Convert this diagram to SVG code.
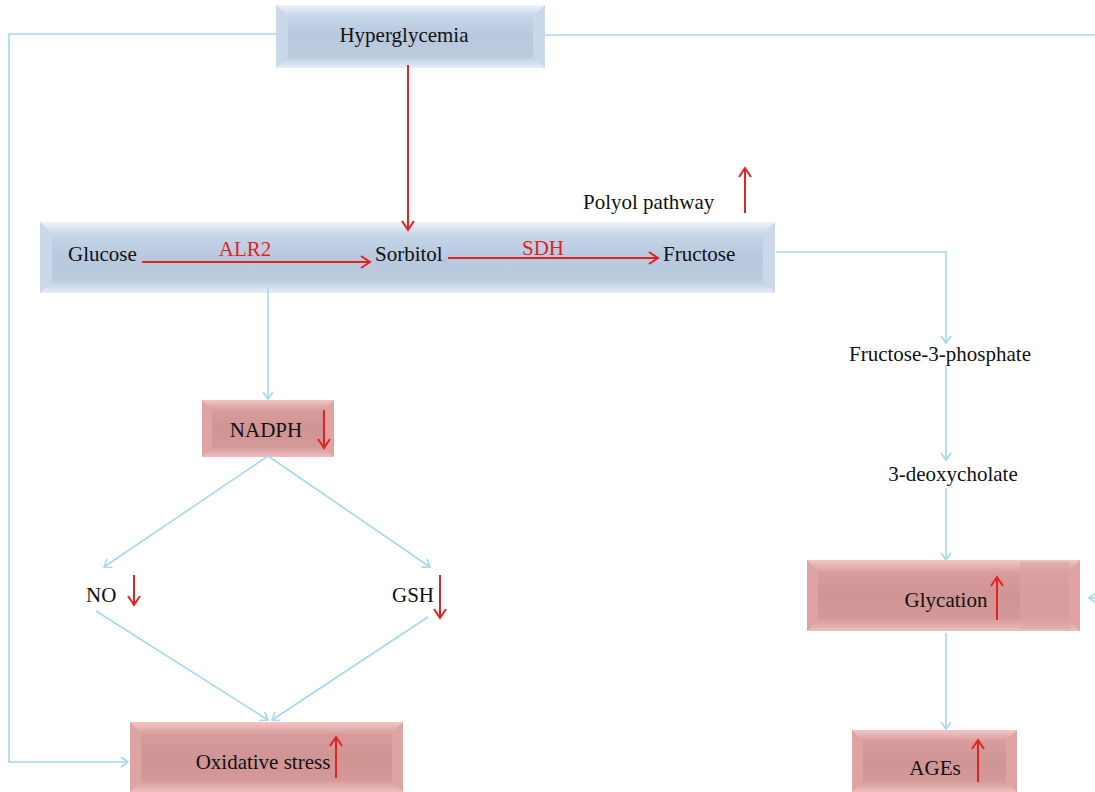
<svg xmlns="http://www.w3.org/2000/svg" width="1095" height="792" viewBox="0 0 1095 792">
<style>
text{font-family:"Liberation Serif","DejaVu Serif",serif;font-size:21px;fill:#111}
.red{fill:#e02424}
.c{fill:none;stroke:#a3d8ef;stroke-width:1.6}
.r{fill:none;stroke:#e02424;stroke-width:2}
.bs{fill:#cad8ea}
.ps{fill:#dea4a4}
</style>
<defs>
<linearGradient id="gb" x1="0" y1="0" x2="0" y2="1">
<stop offset="0" stop-color="#eef3fa"/><stop offset="0.18" stop-color="#c6d5e8"/><stop offset="0.5" stop-color="#b8c8de"/><stop offset="0.82" stop-color="#bccbe0"/><stop offset="1" stop-color="#e6eef8"/>
</linearGradient>
<linearGradient id="gp" x1="0" y1="0" x2="0" y2="1">
<stop offset="0" stop-color="#f3c6c6"/><stop offset="0.18" stop-color="#d99c9c"/><stop offset="0.5" stop-color="#d09494"/><stop offset="0.82" stop-color="#d39898"/><stop offset="1" stop-color="#efbdbd"/>
</linearGradient>
<marker id="ab" markerWidth="12" markerHeight="12" refX="9" refY="6" orient="auto" markerUnits="userSpaceOnUse">
<path d="M2,1 L9,6 L2,11" fill="none" stroke="#a3d8ef" stroke-width="1.6"/>
</marker>
<marker id="ar" markerWidth="14" markerHeight="14" refX="11" refY="7" orient="auto" markerUnits="userSpaceOnUse">
<path d="M2,1 L11,7 L2,13" fill="none" stroke="#e02424" stroke-width="2"/>
</marker>
</defs>

<g id="hyperglycemia">
<rect x="276" y="5" width="269" height="63" fill="url(#gb)"/>
<polygon class="bs" points="276,5 288,16 288,57 276,68"/>
<polygon class="bs" points="545,5 533,16 533,57 545,68"/>
<text x="404" y="42" text-anchor="middle">Hyperglycemia</text>
</g>

<g id="polyol">
<rect x="40" y="222" width="735" height="71" fill="url(#gb)"/>
<polygon class="bs" points="40,222 52,234 52,281 40,293"/>
<polygon class="bs" points="775,222 763,234 763,281 775,293"/>
<text x="68" y="261">Glucose</text>
<text x="245" y="256" text-anchor="middle" class="red">ALR2</text>
<line class="r" x1="142" y1="262" x2="370" y2="262" marker-end="url(#ar)"/>
<text x="375" y="261">Sorbitol</text>
<text x="543" y="255" text-anchor="middle" class="red">SDH</text>
<line class="r" x1="448" y1="258" x2="658" y2="258" marker-end="url(#ar)"/>
<text x="663" y="261">Fructose</text>
</g>

<g id="polyol-label">
<text x="583" y="209">Polyol pathway</text>
<line class="r" x1="745" y1="213" x2="745" y2="168" marker-end="url(#ar)"/>
</g>

<g id="nadph">
<rect x="202" y="400" width="132" height="57" fill="url(#gp)"/>
<polygon class="ps" points="202,400 212,410 212,447 202,457"/>
<polygon class="ps" points="334,400 324,410 324,447 334,457"/>
<text x="266" y="437" text-anchor="middle">NADPH</text>
<line class="r" x1="324" y1="410" x2="324" y2="448" marker-end="url(#ar)"/>
</g>

<g id="no">
<text x="86" y="602">NO</text>
<line class="r" x1="134" y1="575" x2="134" y2="605" marker-end="url(#ar)"/>
</g>

<g id="gsh">
<text x="392" y="602">GSH</text>
<line class="r" x1="440" y1="575" x2="440" y2="618" marker-end="url(#ar)"/>
</g>

<g id="oxidative">
<rect x="130" y="722" width="273" height="70" fill="url(#gp)"/>
<polygon class="ps" points="130,722 141,733 141,781 130,792"/>
<polygon class="ps" points="403,722 392,733 392,781 403,792"/>
<text x="263" y="769" text-anchor="middle">Oxidative stress</text>
<line class="r" x1="336" y1="778" x2="336" y2="737" marker-end="url(#ar)"/>
</g>

<g id="f3p">
<text x="940" y="361" text-anchor="middle">Fructose-3-phosphate</text>
</g>

<g id="deoxy">
<text x="953" y="481" text-anchor="middle">3-deoxycholate</text>
</g>

<g id="glycation">
<rect x="807" y="560" width="273" height="71" fill="url(#gp)"/>
<rect x="1020" y="562" width="50" height="67" fill="#dca4a4" opacity="0.6"/>
<polygon class="ps" points="807,560 818,571 818,620 807,631"/>
<polygon class="ps" points="1080,560 1069,571 1069,620 1080,631"/>
<text x="946" y="607" text-anchor="middle">Glycation</text>
<line class="r" x1="997" y1="620" x2="997" y2="577" marker-end="url(#ar)"/>
</g>

<g id="ages">
<rect x="852" y="730" width="165" height="62" fill="url(#gp)"/>
<polygon class="ps" points="852,730 863,741 863,781 852,792"/>
<polygon class="ps" points="1017,730 1006,741 1006,781 1017,792"/>
<text x="935" y="775" text-anchor="middle">AGEs</text>
<line class="r" x1="978" y1="782" x2="978" y2="740" marker-end="url(#ar)"/>
</g>

<g id="connectors">
<polyline class="c" points="276,34 9,34 9,762 128,762" marker-end="url(#ab)"/>
<polyline class="c" points="545,35 1095,35"/>
<polyline class="c" points="1096,598 1089,598" marker-end="url(#ab)"/>
<polyline class="c" points="776,252 946,252 946,343" marker-end="url(#ab)"/>
<polyline class="c" points="946,366 946,460" marker-end="url(#ab)"/>
<polyline class="c" points="946,488 946,560" marker-end="url(#ab)"/>
<polyline class="c" points="946,633 946,729" marker-end="url(#ab)"/>
<polyline class="c" points="268,288 268,399" marker-end="url(#ab)"/>
<polyline class="c" points="268,456 104,567" marker-end="url(#ab)"/>
<polyline class="c" points="268,456 430,567" marker-end="url(#ab)"/>
<polyline class="c" points="96,611 268,720" marker-end="url(#ab)"/>
<polyline class="c" points="428,617 272,720" marker-end="url(#ab)"/>
<line class="r" x1="408" y1="65" x2="408" y2="230" marker-end="url(#ar)"/>
</g>
</svg>
